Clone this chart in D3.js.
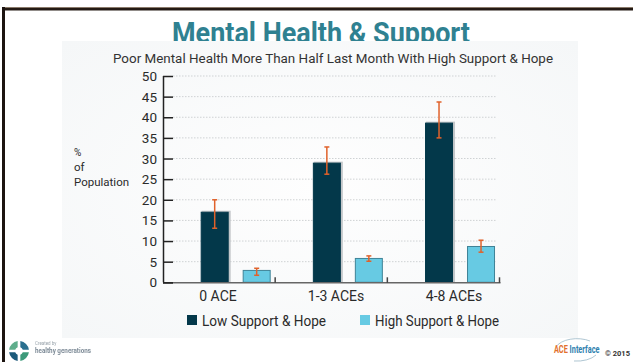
<!DOCTYPE html>
<html>
<head>
<meta charset="utf-8">
<script src="https://cdn.jsdelivr.net/npm/d3@7"></script>
<style>
  html, body { margin: 0; padding: 0; background: #fff; }
  svg { display: block; font-family: Roboto, "Open Sans", sans-serif; }
</style>
</head>
<body>
<svg id="chart" width="633" height="362"></svg>
<script>
// Poor mental health, by ACE count and level of support & hope
const categories = ["0 ACE", "1-3 ACEs", "4-8 ACEs"];
const seriesNames = ["Low Support & Hope", "High Support & Hope"];
const lowValues = [17.1, 29.0, 38.7];
const lowErrLo  = [13.1, 26.2, 35.0];
const lowErrHi  = [20.0, 32.8, 43.7];
const highValues = [3.0, 5.9, 8.8];
const highErrLo  = [1.7, 5.1, 7.3];
const highErrHi  = [3.4, 6.4, 10.2];
const yTicks = [0, 5, 10, 15, 20, 25, 30, 35, 40, 45, 50];
const seriesColors = ["#03384a", "#67cae3"];
const seriesStroke = ["#03384a", "#3f8397"];

const rows = categories.map((c, i) => ({
  category: c,
  bars: [
    { series: seriesNames[0], value: lowValues[i], lo: lowErrLo[i], hi: lowErrHi[i] },
    { series: seriesNames[1], value: highValues[i], lo: highErrLo[i], hi: highErrHi[i] }
  ]
}));

const svg = d3.select("#chart");

// slide frame
svg.append("rect").attr("x", 2).attr("y", 7).attr("width", 640).attr("height", 1).attr("fill", "#8a7a6a");
svg.append("rect").attr("x", 2).attr("y", 8).attr("width", 640).attr("height", 2.5).attr("fill", "#241a14");
svg.append("rect").attr("x", 2).attr("y", 7).attr("width", 3).attr("height", 360).attr("fill", "#1c1410");

// slide title (partly hidden behind the chart panel)
svg.append("text")
  .attr("x", 172).attr("y", 43)
  .attr("textLength", 298).attr("lengthAdjust", "spacingAndGlyphs")
  .attr("font-size", 29).attr("font-weight", 700)
  .attr("fill", "#2f8191")
  .text("Mental Health & Support");

// chart panel
const defs = svg.append("defs");
const grad = defs.append("radialGradient").attr("id", "panelGrad")
  .attr("cx", "50%").attr("cy", "50%").attr("r", "70%");
grad.append("stop").attr("offset", "0%").attr("stop-color", "#fefefe");
grad.append("stop").attr("offset", "100%").attr("stop-color", "#f5f7f8");
svg.append("rect").attr("x", 62).attr("y", 41).attr("width", 516).attr("height", 297)
  .attr("fill", "url(#panelGrad)");

svg.append("text")
  .attr("x", 333).attr("y", 63).attr("text-anchor", "middle")
  .attr("font-size", 13.2).attr("fill", "#333")
  .attr("textLength", 440).attr("lengthAdjust", "spacingAndGlyphs")
  .text("Poor Mental Health More Than Half Last Month With High Support & Hope");

// scales
const plotLeft = 163, plotRight = 499.5, plotBottom = 282.3, plotTop = 76;
const x0 = d3.scaleBand().domain(categories).range([plotLeft, plotRight]).padding(0);
const bw = x0.bandwidth();
const x1 = d3.scaleBand().domain(seriesNames)
  .range([bw * 0.336, bw * 0.96]).paddingInner(1 / 3).paddingOuter(0);
const labelX = d3.scalePoint().domain(categories).range([218, 454]);
const y = d3.scaleLinear().domain([0, 50]).range([plotBottom, plotTop]);

// dotted gridlines
svg.append("g").selectAll("line").data(yTicks.filter(t => t > 0)).join("line")
  .attr("x1", plotLeft + 10).attr("x2", 496)
  .attr("y1", d => y(d)).attr("y2", d => y(d))
  .attr("stroke", "#cfd2d4").attr("stroke-width", 1).attr("stroke-dasharray", "1.5,1.5");

// y axis
const yAxis = d3.axisRight(y).tickValues(yTicks).tickSize(10).tickFormat("");
const gy = svg.append("g").attr("transform", `translate(${plotLeft},0)`).call(yAxis);
gy.select(".domain").attr("stroke", "#222").attr("stroke-width", 1.5).attr("d", `M0.5,${plotTop}V${plotBottom}`);
gy.selectAll(".tick line").attr("stroke", "#222").attr("stroke-width", 1.5);
svg.append("g").selectAll("text").data(yTicks).join("text")
  .attr("x", 157).attr("y", d => y(d) + 5)
  .attr("text-anchor", "end").attr("font-size", 13.5).attr("fill", "#2a2a2a")
  .text(d => d);

// y axis title
const yTitle = svg.append("text").attr("font-size", 11.5).attr("fill", "#2a2a2a");
["%", "of", "Population"].forEach((t, i) => {
  yTitle.append("tspan").attr("x", 74).attr("y", 156 + i * 15)
    .attr("font-size", i === 0 ? 10 : 11.5).text(t);
});

// bars
const groups = svg.append("g").selectAll("g").data(rows).join("g")
  .attr("transform", d => `translate(${x0(d.category)},0)`);

// soft shadow behind dark bars
groups.selectAll("rect.shadow").data(d => d.bars.filter(b => b.series === seriesNames[0])).join("rect")
  .attr("class", "shadow")
  .attr("x", d => x1(d.series) + 1).attr("y", d => y(d.value) - 1)
  .attr("width", x1.bandwidth() + 1).attr("height", d => plotBottom - y(d.value) + 1)
  .attr("fill", "#c3c7ca");

groups.selectAll("rect.bar").data(d => d.bars).join("rect")
  .attr("class", "bar")
  .attr("x", d => x1(d.series) + 0.5).attr("y", d => y(d.value) + 0.5)
  .attr("width", x1.bandwidth() - 1).attr("height", d => plotBottom - y(d.value) - 0.5)
  .attr("fill", (d, i) => seriesColors[i])
  .attr("stroke", (d, i) => seriesStroke[i]).attr("stroke-width", 1);

// x baseline and category ticks
svg.append("line").attr("x1", plotLeft).attr("x2", plotRight + 1)
  .attr("y1", plotBottom + 0.5).attr("y2", plotBottom + 0.5)
  .attr("stroke", "#666").attr("stroke-width", 1.5);
svg.append("line").attr("x1", plotLeft).attr("x2", plotLeft + 10)
  .attr("y1", plotBottom + 0.5).attr("y2", plotBottom + 0.5)
  .attr("stroke", "#222").attr("stroke-width", 1.5);
svg.append("g").selectAll("line").data(categories).join("line")
  .attr("x1", d => x0(d) + bw).attr("x2", d => x0(d) + bw)
  .attr("y1", plotBottom - 5).attr("y2", plotBottom + 0.5)
  .attr("stroke", "#444").attr("stroke-width", 1.5);

// error bars
const errG = groups.selectAll("g.err").data(d => d.bars).join("g").attr("class", "err")
  .attr("stroke", "#e0622b").attr("stroke-width", 1.5);
const cx = d => x1(d.series) + x1.bandwidth() / 2;
errG.append("line").attr("x1", cx).attr("x2", cx)
  .attr("y1", d => y(d.hi)).attr("y2", d => y(d.lo));
errG.append("line").attr("x1", d => cx(d) - 2.5).attr("x2", d => cx(d) + 2.5)
  .attr("y1", d => y(d.hi)).attr("y2", d => y(d.hi));
errG.append("line").attr("x1", d => cx(d) - 2.5).attr("x2", d => cx(d) + 2.5)
  .attr("y1", d => y(d.lo)).attr("y2", d => y(d.lo));

// category labels
svg.append("g").selectAll("text").data(categories).join("text")
  .attr("x", d => labelX(d)).attr("y", 300.5)
  .attr("text-anchor", "middle").attr("font-size", 14).attr("fill", "#2a2a2a")
  .text(d => d);

// legend
const legend = svg.append("g").selectAll("g").data(seriesNames).join("g")
  .attr("transform", (d, i) => `translate(${[187, 360][i]},315)`);
legend.append("rect").attr("width", 10).attr("height", 10)
  .attr("fill", (d, i) => seriesColors[i]);
legend.append("text").attr("x", 15).attr("y", 10.5)
  .attr("font-size", 14).attr("fill", "#2a2a2a")
  .attr("textLength", 124).attr("lengthAdjust", "spacingAndGlyphs")
  .text(d => d);

// footer: sponsor mark (left)
const blur = defs.append("filter").attr("id", "soft");
blur.append("feGaussianBlur").attr("stdDeviation", 0.6);
const logo = svg.append("g").attr("filter", "url(#soft)");
const arc = d3.arc().innerRadius(4).outerRadius(10);
const logoCols = ["#2a6f8f", "#3c9a7a", "#1d5a7a", "#5fae8c"];
logo.append("g").attr("transform", "translate(19,351)").selectAll("path")
  .data(d3.pie().padAngle(0.25)([1, 1, 1, 1])).join("path")
  .attr("d", arc).attr("fill", (d, i) => logoCols[i]);
logo.append("text").attr("x", 35).attr("y", 345).attr("font-size", 4.5).attr("fill", "#9aa4ac").text("Created by");
logo.append("text").attr("x", 35).attr("y", 353).attr("font-size", 7).attr("font-weight", 700)
  .attr("fill", "#7f8c98").attr("textLength", 56).attr("lengthAdjust", "spacingAndGlyphs").text("healthy generations");

// footer: ACE Interface mark and year (right)
svg.append("path").attr("d", "M556,347 A22,12 0 0 1 590,341").attr("fill", "none")
  .attr("stroke", "#9ab7c6").attr("stroke-width", 0.8);
svg.append("path").attr("d", "M574,361 A22,12 0 0 0 596,355").attr("fill", "none")
  .attr("stroke", "#9ab7c6").attr("stroke-width", 0.8);
const ace = svg.append("text").attr("transform", "translate(554,353) scale(0.7,1)")
  .attr("font-size", 10.5).attr("font-weight", 700);
ace.append("tspan").attr("fill", "#e2702e").text("ACE ");
ace.append("tspan").attr("fill", "#2f7fae").text("Interface");
svg.append("text").attr("x", 605).attr("y", 356).attr("font-size", 7.5).attr("font-weight", 700)
  .attr("fill", "#333").text("© 2015");
</script>
</body>
</html>
